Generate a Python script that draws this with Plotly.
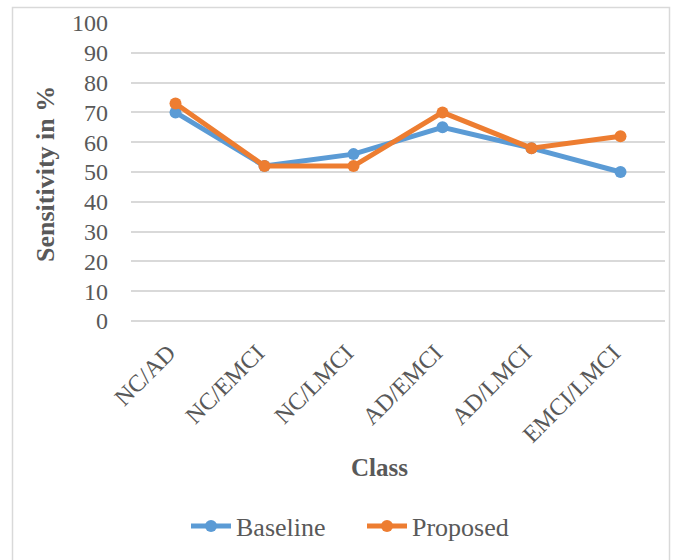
import plotly.graph_objects as go

# Class pairs and sensitivity (%) for each method
classes = ["NC/AD", "NC/EMCI", "NC/LMCI", "AD/EMCI", "AD/LMCI", "EMCI/LMCI"]
baseline = [70, 52, 56, 65, 58, 50]
proposed = [73, 52, 52, 70, 58, 62]

FONT = "Liberation Serif, Times New Roman, serif"
TEXT = "#595959"
GRID = "#D9D9D9"

fig = go.Figure()
fig.add_trace(go.Scatter(
    x=classes, y=baseline, name="Baseline", mode="lines+markers",
    line=dict(color="#5B9BD5", width=5),
    marker=dict(color="#5B9BD5", size=12),
))
fig.add_trace(go.Scatter(
    x=classes, y=proposed, name="Proposed", mode="lines+markers",
    line=dict(color="#ED7D31", width=5),
    marker=dict(color="#ED7D31", size=12),
))

W, H = 676, 560
L, R, T, B = 131, 11, 23, 239
pw, ph = W - L - R, H - T - B

def px_x(x):
    return (x - L) / pw

def px_y(y):
    return (H - B - y) / ph

fig.update_layout(
    width=W, height=H,
    margin=dict(l=L, r=R, t=T, b=B, autoexpand=False),
    paper_bgcolor="white", plot_bgcolor="white",
    font=dict(family=FONT, size=24, color=TEXT),
    showlegend=True,
    legend=dict(
        orientation="h", x=px_x(186), xanchor="left",
        y=px_y(526), yanchor="middle",
        font=dict(family=FONT, size=26, color=TEXT),
        itemwidth=40, traceorder="normal",
        entrywidth=121, entrywidthmode="pixels",
    ),
    xaxis=dict(
        type="category", range=[-0.5, len(classes) - 0.5],
        tickangle=-45, showgrid=False,
        showline=False, ticks="", ticklabelstandoff=12, ticklabelshift=-7,
        tickfont=dict(family=FONT, size=24, color=TEXT),
    ),
    yaxis=dict(
        range=[0, 100], dtick=10, showgrid=True, gridcolor=GRID, gridwidth=1.5,
        zeroline=True, zerolinecolor=GRID, zerolinewidth=1.5,
        showline=False, ticks="", ticklabelstandoff=22,
        tickfont=dict(family=FONT, size=24, color=TEXT),
    ),
    annotations=[
        dict(text="<b>Class</b>", xref="paper", yref="paper",
             x=px_x(379), y=px_y(467), xanchor="center", yanchor="middle",
             showarrow=False, font=dict(family=FONT, size=25, color=TEXT)),
        dict(text="<b>Sensitivity in %</b>", xref="paper", yref="paper",
             x=px_x(45), y=px_y(174), xanchor="center", yanchor="middle",
             showarrow=False, textangle=-90,
             font=dict(family=FONT, size=26, color=TEXT)),
    ],
    shapes=[
        dict(type="rect", xref="paper", yref="paper",
             x0=px_x(12.5), x1=px_x(669.5), y0=px_y(600), y1=px_y(7.5),
             line=dict(color=GRID, width=1.5), layer="below"),
    ],
)

fig.write_html("out.html")
